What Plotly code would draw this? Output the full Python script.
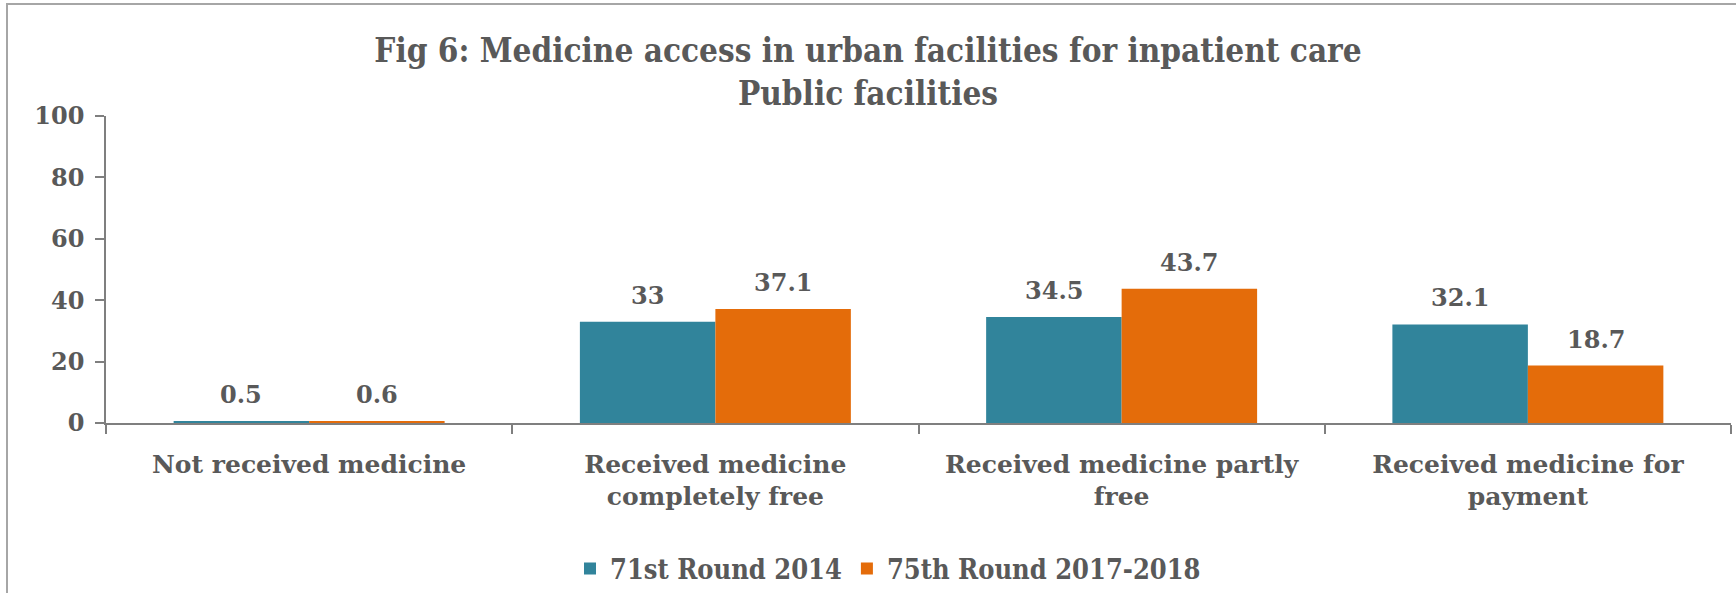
import plotly.graph_objects as go

categories = ["Not received medicine", "Received medicine<br>completely free",
              "Received medicine partly<br>free", "Received medicine for<br>payment"]
series_names = ["71st Round 2014", "75th Round 2017-2018"]
round71 = [0.5, 33, 34.5, 32.1]
round75 = [0.6, 37.1, 43.7, 18.7]
colors = ["#31849B", "#E46C0A"]

W, H = 1736, 593
L, R, T, B = 106, 5, 116, 170
FONT = "DejaVu Serif"
CFONT = "DejaVu Serif Condensed"
GRAY = "#595959"
BARGAP = 0.333

pw = W - L - R
ph = H - T - B

fig = go.Figure()
for name, vals, col in zip(series_names, [round71, round75], colors):
    fig.add_trace(go.Bar(
        x=categories, y=vals, name=name,
        marker=dict(color=col, line=dict(width=0)),
    ))

# data labels as annotations positioned over each bar of the group
cat_px = pw / len(categories)
bar_px = cat_px * (1 - BARGAP) / len(series_names)
for i, vals in enumerate([round71, round75]):
    shift = (i - (len(series_names) - 1) / 2) * bar_px
    for c, v in zip(categories, vals):
        fig.add_annotation(x=c, y=v, xref="x", yref="y", text=f"{v:g}",
                           showarrow=False, xshift=shift, yanchor="bottom", yshift=10,
                           font=dict(family=FONT, size=24, color=GRAY, weight="bold"))

fig.update_layout(
    width=W, height=H,
    margin=dict(l=L, r=R, t=T, b=B, autoexpand=False),
    paper_bgcolor="white", plot_bgcolor="white",
    barmode="group", bargap=BARGAP, bargroupgap=0,
    font=dict(family=FONT, color=GRAY, weight="bold"),
    title=dict(text="Fig 6: Medicine access in urban facilities for inpatient care<br>Public facilities",
               x=(868 - L) / pw, xref="paper", xanchor="center",
               y=1 - 62 / H, yanchor="middle",
               font=dict(family=CFONT, size=33, color=GRAY, weight="bold")),
    showlegend=True,
    legend=dict(orientation="h", x=(888 - L) / pw, xanchor="center",
                y=-(569 - (H - B)) / ph, yanchor="middle",
                font=dict(family=CFONT, size=27, color=GRAY, weight="bold"),
                itemwidth=30, traceorder="normal"),
    yaxis=dict(range=[0, 100], dtick=20, showgrid=False, zeroline=False,
               showline=True, linecolor="#7f7f7f", linewidth=1.5,
               ticks="outside", ticklen=9, tickcolor="#7f7f7f", tickwidth=1.5,
               tickfont=dict(family=FONT, size=24, color=GRAY, weight="bold"),
               ticklabelstandoff=6, automargin=False),
    xaxis=dict(showgrid=False, showline=True, linecolor="#7f7f7f", linewidth=1.5,
               ticks="outside", ticklen=9, tickcolor="#7f7f7f", tickwidth=1.5,
               tickson="boundaries",
               tickfont=dict(family=FONT, size=25, color=GRAY, weight="bold"),
               ticklabelstandoff=18, automargin=False),
    shapes=[dict(type="rect", xref="paper", yref="paper",
                 x0=(7 - L) / pw, x1=(W + 20 - L) / pw,
                 y0=-(H + 20 - (H - B)) / ph, y1=1 + (T - 4) / ph,
                 line=dict(color="#a6a6a6", width=2), fillcolor="rgba(0,0,0,0)",
                 layer="below")],
)

fig.write_html("out.html", config={"displayModeBar": False},
               post_script="document.body.style.margin='0px';")
